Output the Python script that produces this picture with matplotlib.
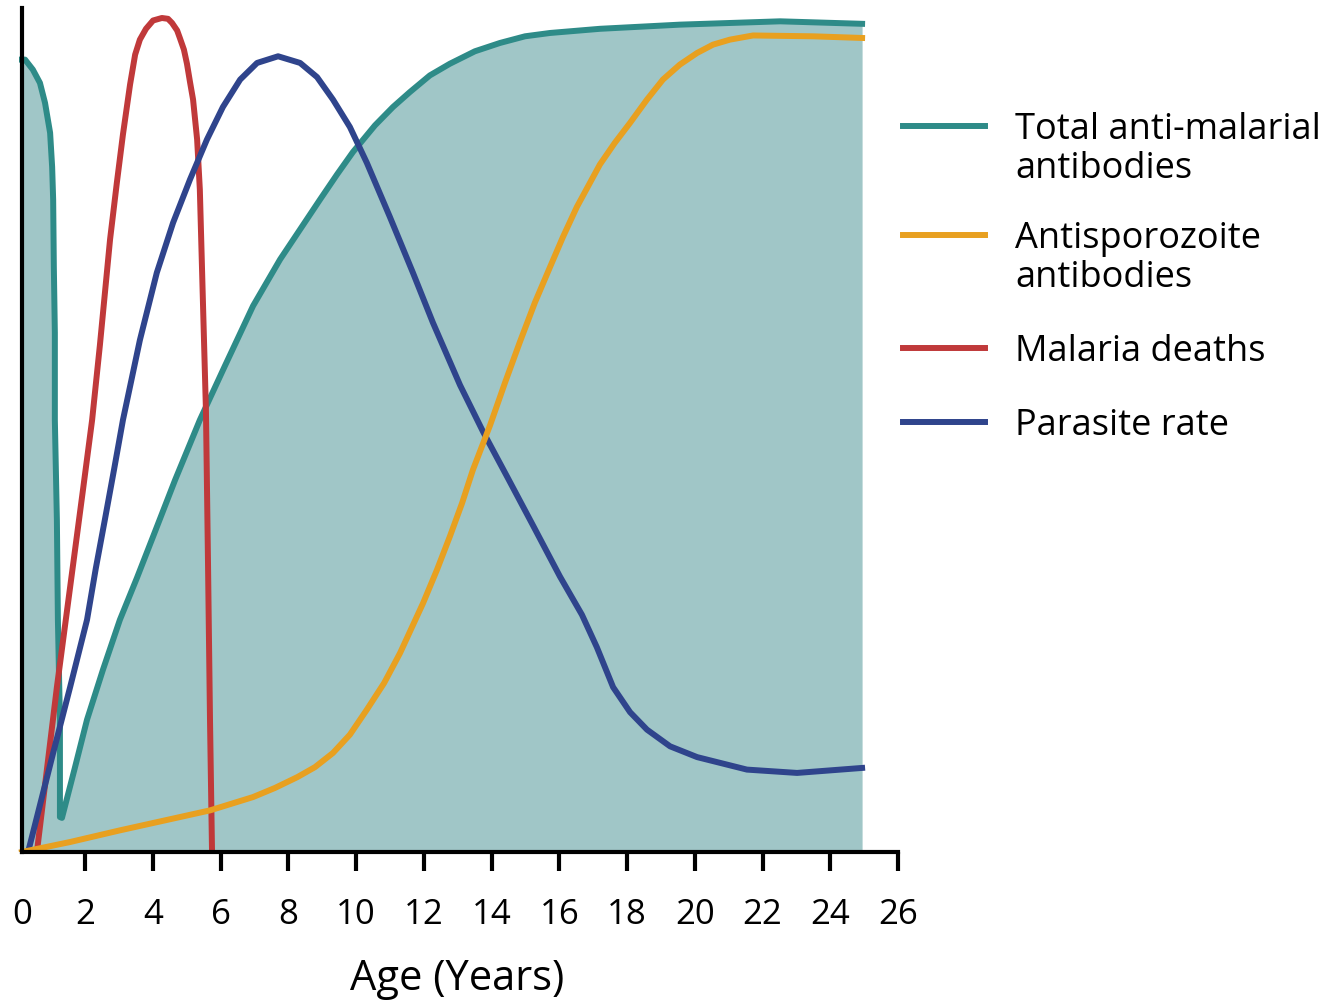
import matplotlib
matplotlib.use("Agg")
import matplotlib.pyplot as plt
from matplotlib.lines import Line2D

plt.rcParams['font.family'] = ['Open Sans', 'DejaVu Sans']

# ages (years) and relative levels (0-100)
total_x = [0.14, 0.23, 0.46, 0.67, 0.82, 0.97, 1.03, 1.06, 1.08, 1.11, 1.11, 1.17, 1.20,
           1.26, 1.26, 1.32, 1.70, 2.06, 2.53, 3.03, 3.53, 4.01, 4.66, 5.39, 6.13,
           6.96, 7.76, 8.35, 8.94, 9.44, 9.91, 10.56, 11.09, 11.59, 12.18, 12.77,
           13.51, 14.25, 14.99, 15.73, 17.20, 19.56, 22.52, 24.94]
total_y = [95.2, 95.2, 94.0, 92.4, 90.0, 86.4, 82.3, 78.4, 70.3, 62.4, 51.9, 39.9, 27.9,
           15.9, 4.2, 4.1, 10.1, 15.9, 21.9, 27.9, 32.9, 37.9, 44.7, 51.9, 58.4,
           65.6, 71.2, 74.8, 78.4, 81.4, 84.1, 87.3, 89.5, 91.3, 93.3, 94.7,
           96.2, 97.2, 98.0, 98.4, 98.9, 99.4, 99.8, 99.5]

sporo_x = [0.14, 1.56, 3.03, 4.36, 5.69, 6.96, 7.61, 8.27, 8.79, 9.32, 9.82, 10.32,
           10.83, 11.30, 11.98, 12.39, 12.77, 13.13, 13.45, 13.96, 14.40, 14.84,
           15.28, 15.73, 16.11, 16.52, 17.20, 17.64, 18.09, 18.59, 19.06,
           19.56, 20.07, 20.54, 21.04, 21.72, 23.49, 24.94]
sporo_y = [0, 1.2, 2.6, 3.8, 5.0, 6.6, 7.7, 9.0, 10.2, 11.9, 14.1, 17.1,
           20.3, 23.9, 29.9, 33.9, 37.9, 41.9, 45.9, 51.3, 56.4, 61.3,
           66.0, 70.3, 73.9, 77.5, 82.6, 85.2, 87.6, 90.4, 92.8,
           94.6, 96.0, 97.0, 97.6, 98.1, 98.0, 97.8]

deaths_x = [0.58, 1.17, 1.56, 1.94, 2.21, 2.44, 2.74, 2.94, 3.12, 3.33, 3.48, 3.62,
            3.80, 4.01, 4.27, 4.45, 4.57, 4.72, 4.80, 4.92, 5.01, 5.10, 5.19, 5.31,
            5.39, 5.48, 5.57, 5.63, 5.69, 5.75]
deaths_y = [0, 19.8, 31.8, 43.5, 51.9, 60.9, 73.6, 80.4, 86.2, 92.2, 95.8, 97.6,
            98.9, 99.9, 100.2, 100.1, 99.6, 98.7, 97.8, 96.4, 94.7, 92.5, 90.4, 85.6,
            79.6, 66.3, 53.1, 35.1, 15.9, 0]

parasite_x = [0.32, 1.06, 1.56, 2.06, 2.32, 2.59, 2.86, 3.12, 3.62, 4.12, 4.60, 5.10,
              5.60, 6.07, 6.58, 7.08, 7.70, 8.35, 8.85, 9.32, 9.82, 10.32, 11.00,
              11.68, 12.27, 13.07, 13.75, 14.46, 15.23, 16.02, 16.67, 17.11, 17.59,
              18.09, 18.59, 19.27, 20.07, 21.54, 23.02, 24.94]
parasite_y = [0, 11.9, 19.8, 27.9, 34.1, 40.0, 46.0, 51.9, 61.5, 69.6, 75.6, 80.8,
              85.6, 89.5, 92.8, 94.8, 95.6, 94.8, 93.1, 90.4, 87.1, 82.8, 76.3,
              69.6, 63.6, 56.1, 50.5, 45.1, 39.2, 33.1, 28.5, 24.6, 19.8,
              16.8, 14.7, 12.7, 11.4, 9.9, 9.5, 10.1]

labels = ['Total anti-malarial\nantibodies', 'Antisporozoite\nantibodies',
          'Malaria deaths', 'Parasite rate']
colors = ['#2e8b88', '#e8a020', '#c0393a', '#2f448c']
xticks = [0.14] + list(range(2, 27, 2))
xticklabels = ['0'] + [str(t) for t in range(2, 27, 2)]

fig = plt.figure(figsize=(13.4, 10.01), dpi=100)
ax = fig.add_axes([17.25/1340, 1 - 852/1001, 880.75/1340, 844/1001])

ax.fill_between(total_x, total_y, 0, color='#a0c6c7', linewidth=0)
ax.plot(total_x, total_y, color=colors[0], lw=4.3, solid_joinstyle='round')
ax.plot(deaths_x, deaths_y, color=colors[2], lw=4.3, solid_joinstyle='round')
ax.plot(parasite_x, parasite_y, color=colors[3], lw=4.3, solid_joinstyle='round')
ax.plot(sporo_x, sporo_y, color=colors[1], lw=4.3, solid_joinstyle='round')

ax.set_xlim(0, 26)
ax.set_ylim(0, 101.4)
ax.spines['top'].set_visible(False)
ax.spines['right'].set_visible(False)
ax.spines['left'].set_position(('data', 0.14))
ax.spines['left'].set_linewidth(3)
ax.spines['bottom'].set_linewidth(3)
ax.spines['bottom'].set_bounds(0.14, 26)
ax.set_yticks([])
ax.set_xticks(xticks)
ax.set_xticklabels(xticklabels)
ax.tick_params(axis='x', direction='out', length=14, width=3, pad=19, labelsize=25)
ax.xaxis.get_major_ticks()[0].tick1line.set_visible(False)
ax.set_xlabel('Age (Years)', fontsize=30, labelpad=19)

# legend drawn by hand, to the right of the plot
leg_y = [126, 235, 348, 422]
for lab, col, py in zip(labels, colors, leg_y):
    fy = 1 - py / 1001
    fig.add_artist(Line2D([903/1340, 985/1340], [fy, fy], color=col, lw=4.3,
                          transform=fig.transFigure))
    fig.text(1015/1340, fy + 14/1001, lab, fontsize=26, va='top', ha='left',
             linespacing=1.12)

fig.savefig('out.png', dpi=100)
